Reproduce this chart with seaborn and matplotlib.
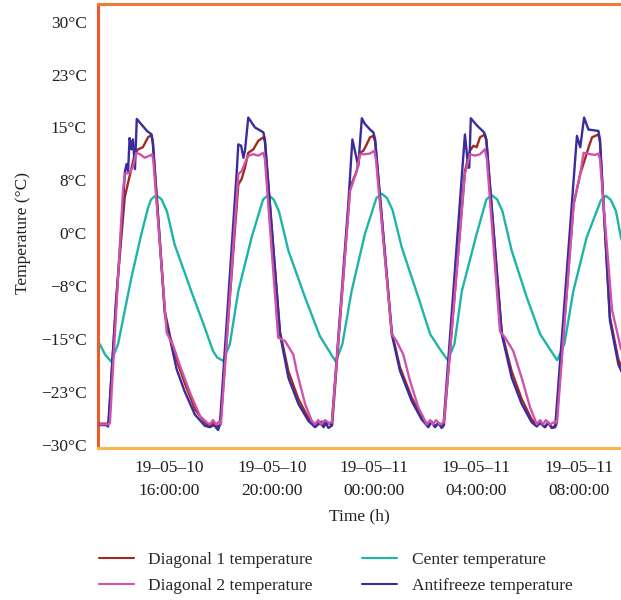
import numpy as np
import pandas as pd
import matplotlib
matplotlib.use("Agg")
import matplotlib.pyplot as plt
from matplotlib.lines import Line2D
import seaborn as sns

# ---------------- data (hours since 2019-05-10 00:00, temperature in °C) ----------------
series_names = ["Diagonal 1 temperature", "Diagonal 2 temperature",
                "Center temperature", "Antifreeze temperature"]

diag1_hours = [13.27, 13.55, 13.62, 13.91, 14.25, 14.44, 14.64, 14.77, 14.96, 15.16, 15.29, 15.35, 15.82, 16.02,
               16.29, 16.61, 17.00, 17.39, 17.58, 17.74, 17.90, 17.99,
               18.69, 18.82, 18.95, 19.08, 19.28, 19.47, 19.67, 19.73, 20.32, 20.65, 21.04, 21.43, 21.69,
               21.82, 22.02, 22.21, 22.36,
               23.06, 23.32, 23.45, 23.58, 23.71, 23.84, 23.97, 24.04, 24.69, 25.01, 25.47, 25.86, 26.12,
               26.25, 26.38, 26.51, 26.64, 26.73,
               27.55, 27.75, 27.88, 28.01, 28.14, 28.33, 28.39, 28.99, 29.38, 29.77, 30.16, 30.36,
               30.49, 30.68, 30.81, 30.95, 31.12,
               31.80, 32.06, 32.26, 32.39, 32.52, 32.77, 32.83, 33.22, 33.55, 33.81]
diag1_temp = [-27.0, -27.0, -27.0, -9.4, 5.1, 8.1, 11.2, 11.9, 12.2, 13.6, 13.9, 13.0, -11.1, -14.6,
              -18.1, -21.4, -25.0, -26.9, -27.4, -26.8, -27.5, -27.1,
              6.9, 7.7, 9.3, 11.4, 11.9, 13.1, 13.6, 13.0, -14.0, -19.6, -23.5, -26.2, -27.2,
              -26.8, -27.4, -26.9, -27.2,
              6.5, 8.8, 11.4, 11.7, 12.6, 13.6, 13.8, 13.0, -14.0, -19.0, -23.3, -26.1, -27.2,
              -26.8, -27.4, -26.9, -27.5, -27.2,
              8.8, 11.7, 12.4, 12.2, 13.6, 14.0, 13.0, -14.0, -19.6, -23.5, -26.4, -27.2,
              -26.8, -27.5, -26.9, -27.6, -27.2,
              4.1, 8.4, 10.7, 12.2, 13.6, 14.0, 13.0, -11.9, -17.9, -20.1]

diag2_hours = [13.27, 13.60, 13.67, 14.18, 14.25, 14.44, 14.57, 14.70, 14.85, 15.03, 15.23, 15.32, 15.37, 15.89,
               16.15, 16.41, 16.80, 17.19, 17.45, 17.58, 17.70, 17.82, 17.94, 18.01,
               18.69, 18.82, 18.95, 19.08, 19.28, 19.47, 19.67, 19.73, 20.25, 20.52, 20.84, 20.97, 21.30, 21.56,
               21.69, 21.81, 21.93, 22.08, 22.24, 22.35,
               23.06, 23.32, 23.45, 23.64, 23.84, 24.01, 24.07, 24.69, 24.88, 25.14, 25.40, 25.73, 26.06,
               26.19, 26.30, 26.42, 26.58, 26.73,
               27.55, 27.75, 27.94, 28.14, 28.33, 28.41, 28.92, 29.12, 29.44, 29.77, 30.10, 30.36,
               30.49, 30.60, 30.72, 30.88, 31.08, 31.15,
               31.80, 32.06, 32.19, 32.45, 32.65, 32.77, 32.83, 33.30, 33.65, 33.81]
diag2_temp = [-27.1, -27.1, -26.9, 6.0, 8.4, 8.6, 9.4, 11.4, 11.2, 10.7, 11.0, 11.2, 10.2, -14.1,
              -16.0, -18.8, -22.6, -25.9, -26.8, -27.1, -26.5, -27.1, -26.7, -27.1,
              8.4, 8.8, 10.0, 11.0, 11.2, 11.0, 11.4, 10.5, -14.8, -15.3, -17.2, -19.5, -24.2, -26.6,
              -27.1, -26.5, -27.1, -26.5, -26.9, -26.8,
              6.0, 8.8, 11.2, 11.2, 11.3, 11.7, 10.5, -14.3, -15.3, -17.2, -20.9, -24.7, -27.1,
              -26.5, -27.1, -26.5, -27.1, -26.8,
              8.4, 11.2, 11.0, 11.2, 11.9, 10.5, -13.9, -14.8, -16.7, -20.5, -24.7, -27.1,
              -26.5, -27.1, -26.5, -27.1, -26.7, -26.9,
              4.1, 8.4, 11.4, 11.2, 11.1, 11.3, 10.5, -10.8, -16.4, -17.2]

center_hours = [13.27, 13.48, 13.72, 13.99, 14.51, 14.90, 15.16, 15.28, 15.48, 15.69, 15.90, 16.20, 16.85,
                17.38, 17.70, 17.86, 18.10, 18.36, 18.69, 19.21, 19.66, 19.86, 20.07, 20.28, 20.65, 21.30,
                21.88, 22.24, 22.50, 22.76, 23.12, 23.64, 24.09, 24.30, 24.50, 24.72, 25.08, 25.73, 26.19,
                26.62, 26.88, 27.14, 27.43, 28.01, 28.39, 28.60, 28.81, 29.02, 29.38, 29.97, 30.49, 30.92,
                31.16, 31.44, 31.79, 32.31, 32.87, 33.07, 33.26, 33.46, 33.65, 33.81]
center_temp = [-15.7, -17.2, -18.2, -15.7, -6.3, -0.1, 3.6, 4.8, 5.4, 4.8, 3.1, -1.6, -8.2,
               -13.4, -16.7, -17.6, -18.1, -15.7, -8.2, -0.6, 4.8, 5.4, 4.8, 3.1, -2.5, -9.1,
               -14.6, -16.7, -18.2, -15.7, -8.2, -0.1, 5.0, 5.6, 5.0, 3.3, -2.0, -9.1, -14.3,
               -16.7, -18.0, -15.7, -8.2, -0.1, 4.8, 5.4, 4.8, 3.1, -2.5, -9.1, -14.3, -16.7,
               -18.0, -15.7, -8.2, -0.6, 4.7, 5.3, 4.7, 3.1, -0.6, -2.3]

antifreeze_hours = [13.27, 13.52, 13.60, 13.91, 14.18, 14.26, 14.32, 14.38, 14.44, 14.51, 14.57, 14.65, 14.72,
                    15.12, 15.30, 15.35, 15.82, 16.02, 16.28, 16.59, 16.99, 17.38, 17.58, 17.74, 17.90, 17.97,
                    18.63, 18.69, 18.80, 18.89, 18.95, 19.08, 19.34, 19.67, 19.73, 20.32, 20.65, 21.04, 21.43, 21.69,
                    21.82, 21.95, 22.02, 22.08, 22.21, 22.34,
                    22.99, 23.15, 23.38, 23.52, 23.64, 23.84, 23.97, 24.04, 24.69, 25.01, 25.47, 25.86, 26.12,
                    26.25, 26.38, 26.51, 26.64, 26.71,
                    27.55, 27.68, 27.72, 27.78, 28.04, 28.30, 28.39, 28.99, 29.38, 29.77, 30.16, 30.36,
                    30.49, 30.68, 30.81, 30.95, 31.08,
                    31.93, 32.06, 32.21, 32.38, 32.77, 32.83, 33.22, 33.55, 33.81]
antifreeze_temp = [-27.2, -27.2, -27.4, -10.1, 4.1, 8.8, 9.8, 8.8, 13.5, 11.9, 13.3, 9.1, 16.2,
                   14.5, 14.0, 12.6, -11.5, -15.0, -19.3, -22.4, -25.7, -27.3, -27.5, -27.2, -27.9, -27.1,
                   8.8, 12.6, 12.4, 10.7, 11.7, 16.4, 15.0, 14.3, 13.3, -14.3, -20.5, -24.2, -26.6, -27.5,
                   -27.1, -26.7, -27.5, -26.6, -27.6, -27.3,
                   4.1, 13.3, 9.5, 16.3, 15.5, 14.7, 14.3, 13.3, -14.3, -19.5, -23.8, -26.4, -27.5,
                   -26.7, -27.5, -26.9, -27.6, -27.3,
                   14.0, 9.3, 9.3, 16.3, 15.2, 14.3, 13.3, -14.3, -20.5, -24.2, -26.8, -27.4,
                   -26.9, -27.5, -26.8, -27.6, -27.5,
                   13.8, 12.2, 16.4, 14.7, 14.5, 13.3, -12.4, -18.6, -20.7]

xtick_hours = [16, 20, 24, 28, 32]
xtick_labels = ["19\u201305\u201310\n16:00:00", "19\u201305\u201310\n20:00:00", "19\u201305\u201311\n00:00:00",
                "19\u201305\u201311\n04:00:00", "19\u201305\u201311\n08:00:00"]
ytick_values = [-30, -22.5, -15, -7.5, 0, 7.5, 15, 22.5, 30]
ytick_labels = ["\u221230\u00b0C", "\u221223\u00b0C", "\u221215\u00b0C", "\u22128\u00b0C", "0\u00b0C",
                "8\u00b0C", "15\u00b0C", "23\u00b0C", "30\u00b0C"]

colors = {"Diagonal 1 temperature": "#a12a22",
          "Diagonal 2 temperature": "#d052aa",
          "Center temperature": "#1db5a7",
          "Antifreeze temperature": "#3a2c9e"}

# ---------------- plotting ----------------
sns.set_theme(style="white")
plt.rcParams['font.family'] = ['Liberation Serif', 'DejaVu Serif']
plt.rcParams['axes.unicode_minus'] = True

base = pd.Timestamp("2019-05-10")


def to_dt(hours):
    return base + pd.to_timedelta(np.asarray(hours, dtype=float), unit="h")


fig = plt.figure(figsize=(6.21, 6.0), dpi=100)
ax = fig.add_axes([98 / 621, 152 / 600, 582 / 621, 444 / 600])

data = [
    ("Diagonal 1 temperature", diag1_hours, diag1_temp),
    ("Diagonal 2 temperature", diag2_hours, diag2_temp),
    ("Center temperature", center_hours, center_temp),
    ("Antifreeze temperature", antifreeze_hours, antifreeze_temp),
]
zorders = {"Diagonal 1 temperature": 3, "Diagonal 2 temperature": 4,
           "Center temperature": 2, "Antifreeze temperature": 3.5}
for name, hrs, temps in data:
    sns.lineplot(x=to_dt(hrs), y=temps, ax=ax, color=colors[name], linewidth=1.7,
                 estimator=None, sort=False, legend=False, zorder=zorders[name])

ax.set_xlim(to_dt([13.204])[0], to_dt([35.96])[0])
ax.set_ylim(-30.45, 32.5)

ax.set_xticks(to_dt(xtick_hours))
ax.set_xticklabels(xtick_labels, fontsize=12.5, linespacing=1.55)
ax.set_yticks(ytick_values)
ax.set_yticklabels(ytick_labels, fontsize=12.5)
ax.tick_params(axis="both", length=0, colors="#231f20")
ax.tick_params(axis="x", pad=9)
ax.tick_params(axis="y", pad=8)
ax.set_xlabel("")
ax.set_ylabel("")

ax.spines["right"].set_visible(False)
ax.spines["left"].set_color("#f0592a")
ax.spines["top"].set_color("#f27a30")
ax.spines["bottom"].set_color("#f9b84c")
for s in ["left", "top", "bottom"]:
    ax.spines[s].set_linewidth(2.2)
ax.grid(False)

fig.text(359.7 / 621, 1 - 516 / 600, "Time (h)", ha="center", va="center", fontsize=12.5, color="#231f20")
fig.text(23 / 621, 1 - 233 / 600, "Temperature (\u00b0C)", ha="center", va="center", rotation=90,
         fontsize=12.5, color="#231f20")

handles = [Line2D([0], [0], color=colors[n], linewidth=1.5) for n in series_names]
fig.legend(handles, series_names, ncol=2, loc="upper left", bbox_to_anchor=(99 / 621, 1 - 552 / 600),
           frameon=False, fontsize=12.5, handlelength=2.0, handletextpad=0.85, columnspacing=2.85,
           labelspacing=0.58, borderpad=0, borderaxespad=0)

fig.savefig("out.png", dpi=100)
